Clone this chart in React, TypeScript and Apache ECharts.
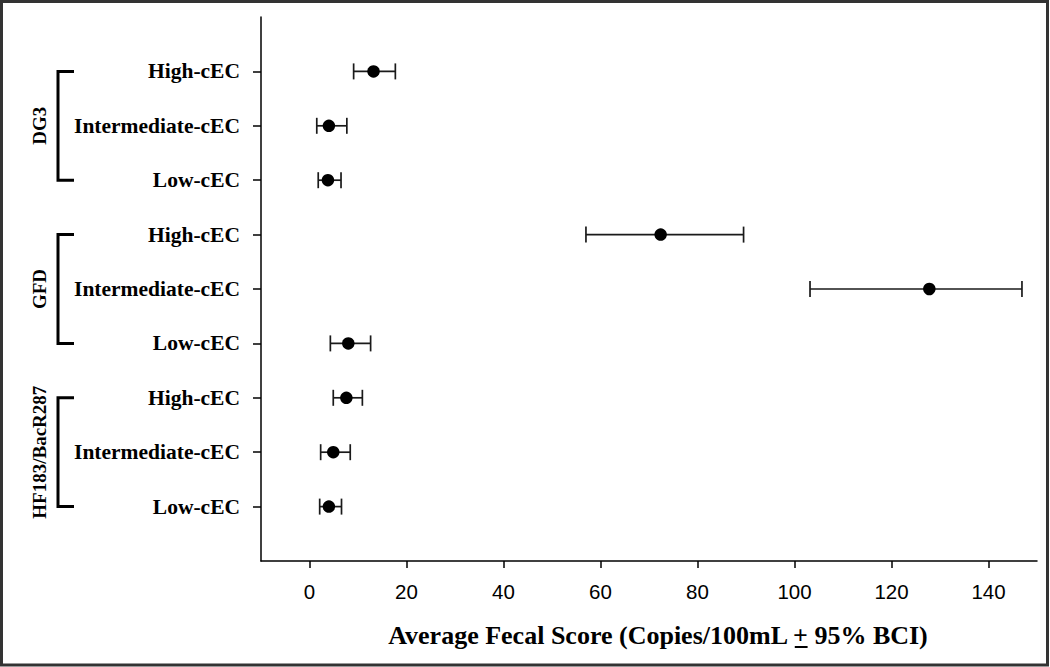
import React, { useEffect, useRef } from "react";
import * as echarts from "echarts";

// rows from bottom (y = 1) to top (y = 9)
const rowLabels = [
  "Low-cEC", "Intermediate-cEC", "High-cEC",
  "Low-cEC", "Intermediate-cEC", "High-cEC",
  "Low-cEC", "Intermediate-cEC", "High-cEC",
];
const rowPositions = [1, 2, 3, 4, 5, 6, 7, 8, 9];
const means = [4.0, 4.9, 7.6, 8.0, 127.8, 72.4, 3.8, 4.0, 13.2];
const lowerCI = [2.1, 2.3, 4.9, 4.3, 103.2, 57.0, 1.8, 1.5, 9.1];
const upperCI = [6.6, 8.4, 10.9, 12.6, 146.9, 89.5, 6.5, 7.7, 17.7];
const groupNames = ["HF183/BacR287", "GFD", "DG3"];
const groupFrom = [1, 4, 7];
const groupTo = [3, 6, 9];
const xTicks = [0, 20, 40, 60, 80, 100, 120, 140];
const titleBefore = "Average Fecal Score (Copies/100mL ";
const titlePm = "+";
const titleAfter = " 95% BCI)";

const SERIF = "'Liberation Serif', 'Times New Roman', serif";
const SANS = "'Liberation Sans', Arial, sans-serif";

export default function App() {
  const ref = useRef<HTMLDivElement>(null);
  useEffect(() => {
    if (!ref.current) return;
    const chart = echarts.init(ref.current, null, { renderer: "svg" });
    const errData = rowPositions.map((y, i) => [lowerCI[i], upperCI[i], y]);
    const ptData = rowPositions.map((y, i) => [means[i], y]);
    const option: any = {
      animation: false,
      backgroundColor: "#fff",
      grid: { left: 261, right: 13, top: 17, bottom: 106, containLabel: false },
      xAxis: {
        type: "value",
        min: -10,
        max: 150,
        axisLine: { show: true, onZero: false, lineStyle: { color: "#000", width: 1.5 } },
        axisTick: { show: true, length: 7, customValues: xTicks, lineStyle: { color: "#000", width: 1.5 } },
        axisLabel: {
          customValues: xTicks,
          margin: 20,
          fontFamily: SANS,
          fontSize: 20.5,
          color: "#000",
        },
        splitLine: { show: false },
      },
      yAxis: {
        type: "value",
        min: 0,
        max: 10,
        axisLine: { show: true, onZero: false, lineStyle: { color: "#000", width: 1.5 } },
        axisTick: { show: true, length: 8, customValues: rowPositions, lineStyle: { color: "#000", width: 1.5 } },
        axisLabel: {
          customValues: rowPositions,
          margin: 21,
          fontFamily: SERIF,
          fontWeight: "bold",
          fontSize: 21.5,
          color: "#000",
          formatter: (v: number) => {
            const idx = rowPositions.indexOf(Math.round(v));
            return idx >= 0 ? rowLabels[idx] : "";
          },
        },
        splitLine: { show: false },
      },
      series: [
        {
          type: "custom",
          data: errData,
          encode: { x: [0, 1], y: 2 },
          z: 2,
          renderItem: (params: any, api: any) => {
            const lo = api.value(0);
            const hi = api.value(1);
            const y = api.value(2);
            const p1 = api.coord([lo, y]);
            const p2 = api.coord([hi, y]);
            const style = { stroke: "#1a1a1a", lineWidth: 1.7 };
            return {
              type: "group",
              children: [
                { type: "line", shape: { x1: p1[0], y1: p1[1], x2: p2[0], y2: p2[1] }, style },
                { type: "line", shape: { x1: p1[0], y1: p1[1] - 8, x2: p1[0], y2: p1[1] + 8 }, style },
                { type: "line", shape: { x1: p2[0], y1: p2[1] - 8, x2: p2[0], y2: p2[1] + 8 }, style },
              ],
            };
          },
        },
        {
          type: "scatter",
          data: ptData,
          symbol: "circle",
          symbolSize: 12.5,
          z: 3,
          itemStyle: { color: "#000", opacity: 1 },
        },
      ],
    };
    chart.setOption(option);

    // annotations: brackets, group labels, title, frame
    const graphics: any[] = [];
    graphics.push({
      type: "rect",
      shape: { x: 1.5, y: 1.5, width: 1046, height: 663.5 },
      style: { fill: "none", stroke: "#333", lineWidth: 3 },
      silent: true,
    });
    groupNames.forEach((name, i) => {
      const top = chart.convertToPixel({ gridIndex: 0 }, [0, groupTo[i]]) as number[];
      const bot = chart.convertToPixel({ gridIndex: 0 }, [0, groupFrom[i]]) as number[];
      const bx = 58;
      const armX = 74;
      graphics.push({
        type: "polyline",
        shape: { points: [[armX, top[1]], [bx, top[1]], [bx, bot[1]], [armX, bot[1]]] },
        style: { stroke: "#000", lineWidth: 3, fill: "none" },
      });
      graphics.push({
        type: "text",
        x: 39,
        y: (top[1] + bot[1]) / 2,
        rotation: Math.PI / 2,
        style: {
          text: name,
          font: `bold 19px ${SERIF}`,
          fill: "#000",
          align: "center",
          verticalAlign: "middle",
        },
      });
    });
    // title with underlined plus sign
    const titleFont = `bold 26px ${SERIF}`;
    const fullTitle = titleBefore + titlePm + titleAfter;
    const cx = 658;
    const ty = 635;
    let wBefore = 0, wPm = 0, wFull = 0;
    try {
      const ctx = document.createElement("canvas").getContext("2d")!;
      ctx.font = titleFont;
      wBefore = ctx.measureText(titleBefore).width;
      wPm = ctx.measureText(titlePm).width;
      wFull = ctx.measureText(fullTitle).width;
    } catch (e) {
      wFull = 540; wBefore = 395; wPm = 15;
    }
    graphics.push({
      type: "text",
      x: cx,
      y: ty,
      style: {
        text: fullTitle,
        font: titleFont,
        fill: "#000",
        align: "center",
        verticalAlign: "middle",
      },
    });
    const pmX = cx - wFull / 2 + wBefore;
    graphics.push({
      type: "line",
      shape: { x1: pmX + 1, y1: ty + 12, x2: pmX + wPm - 1, y2: ty + 12 },
      style: { stroke: "#000", lineWidth: 2 },
    });
    chart.setOption({ graphic: graphics });

    return () => chart.dispose();
  }, []);
  return (
    <div
      ref={ref}
      style={{ position: "fixed", left: 0, top: 0, width: 1050, height: 667, background: "#fff" }}
    />
  );
}
